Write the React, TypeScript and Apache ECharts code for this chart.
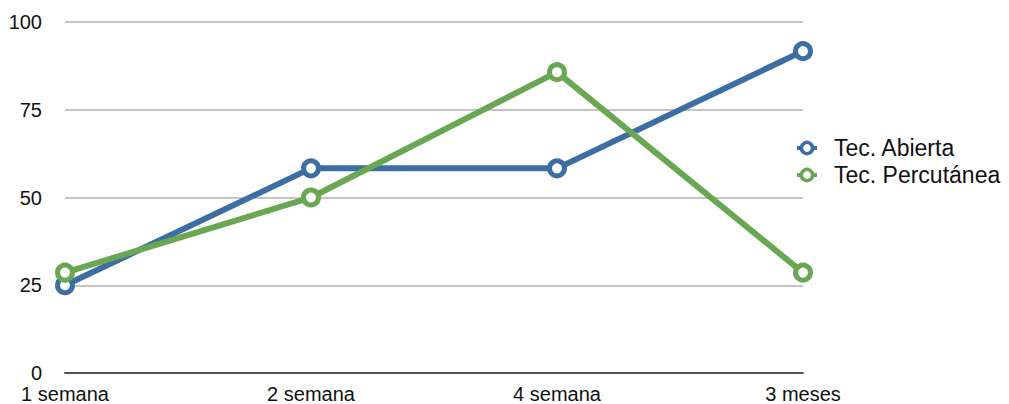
import React, { useEffect, useRef } from "react";
import * as echarts from "echarts";

// Follow-up periods on the horizontal axis
const periods = ["1 semana", "2 semana", "4 semana", "3 meses"];

// Scores for each surgical technique
const abiertaValues = [25, 58.3, 58.3, 91.7];
const percutaneaValues = [28.6, 50, 85.7, 28.6];

const seriesNames = ["Tec. Abierta", "Tec. Percutánea"];
const blue = "#3c6ea4";
const green = "#6aa753";

const FONT = "'Liberation Sans', Arial, Helvetica, sans-serif";

export default function App() {
  const ref = useRef<HTMLDivElement>(null);

  useEffect(() => {
    if (!ref.current) return;
    const chart = echarts.init(ref.current, undefined, { renderer: "svg" });

    const lineSeries = (name: string, data: number[], color: string) => ({
      name,
      type: "line",
      data,
      symbol: "circle",
      symbolSize: 15,
      showSymbol: true,
      lineStyle: { color, width: 6 },
      itemStyle: { color: "#ffffff", borderColor: color, borderWidth: 5 },
      emphasis: { disabled: true },
    });

    chart.setOption({
      animation: false,
      backgroundColor: "#ffffff",
      textStyle: { fontFamily: FONT },
      grid: { left: 65, right: 206, top: 22, bottom: 29, containLabel: false },
      legend: {
        orient: "vertical",
        left: 790,
        top: 131,
        itemWidth: 20,
        itemHeight: 14,
        itemGap: 3,
        itemStyle: { borderWidth: 3.5 },
        lineStyle: { width: 4 },
        textStyle: {
          fontFamily: FONT,
          fontSize: 23,
          lineHeight: 24,
          color: "#111",
          padding: [0, 0, 0, 12],
        },
        data: seriesNames,
      },
      xAxis: {
        type: "category",
        data: periods,
        boundaryGap: false,
        axisLine: { show: true, lineStyle: { color: "#555555", width: 2 } },
        axisTick: { show: false },
        axisLabel: {
          fontSize: 20,
          lineHeight: 20,
          color: "#111",
          margin: 11,
          fontFamily: FONT,
        },
        splitLine: { show: false },
      },
      yAxis: {
        type: "value",
        min: 0,
        max: 100,
        interval: 25,
        axisLine: { show: false },
        axisTick: { show: false },
        axisLabel: {
          fontSize: 20,
          lineHeight: 18,
          color: "#111",
          margin: 23,
          fontFamily: FONT,
        },
        splitLine: { show: true, lineStyle: { color: "#c4c4c4", width: 2 } },
      },
      series: [
        lineSeries(seriesNames[0], abiertaValues, blue),
        lineSeries(seriesNames[1], percutaneaValues, green),
      ],
    });

    return () => chart.dispose();
  }, []);

  return (
    <div
      ref={ref}
      style={{ position: "fixed", left: 0, top: 0, width: 1009, height: 404 }}
    />
  );
}
